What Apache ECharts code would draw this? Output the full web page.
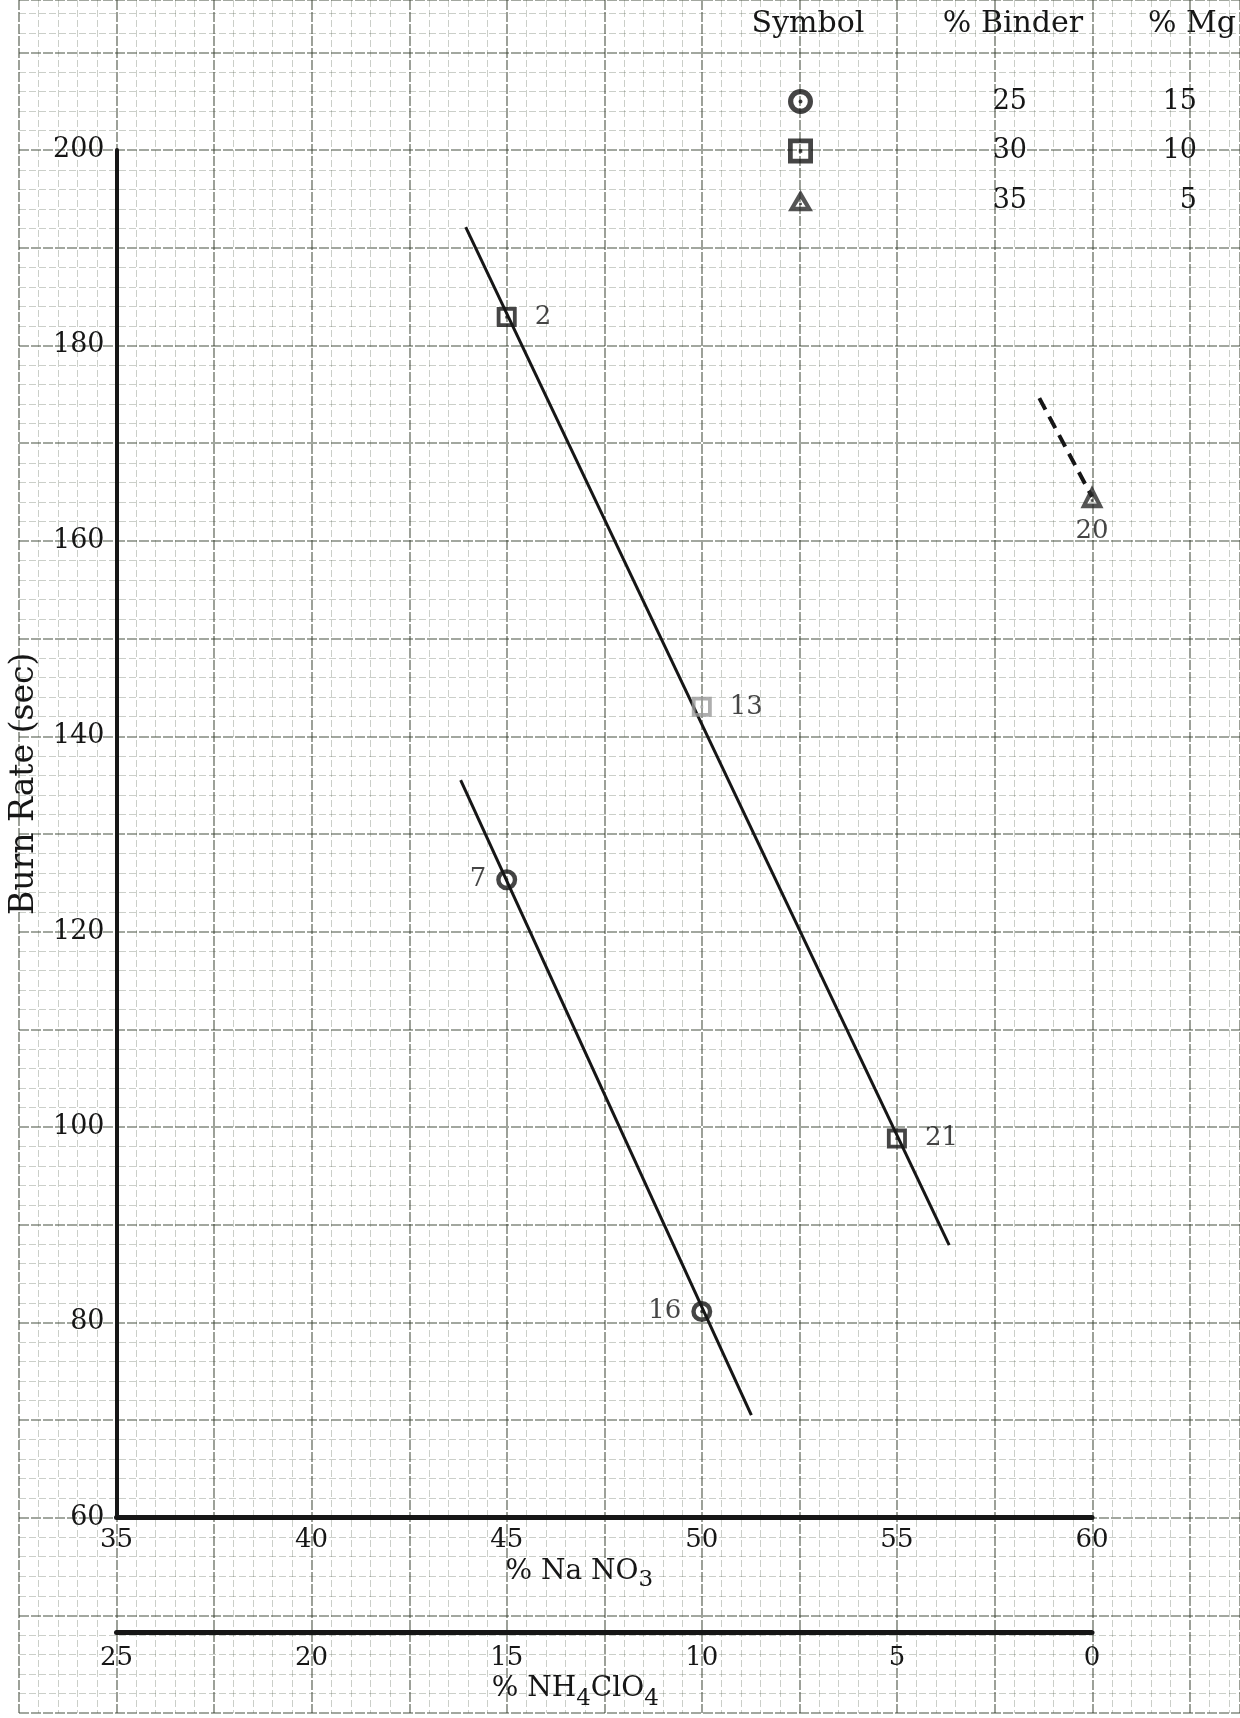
<!DOCTYPE html>
<html>
<head>
<meta charset="utf-8">
<script src="https://cdn.jsdelivr.net/npm/echarts@6/dist/echarts.min.js"></script>
<style>
  html, body { margin: 0; padding: 0; background: #ffffff; }
  #chart { width: 1240px; height: 1718px; }
</style>
</head>
<body>
<div id="chart"></div>
<script>
// ---------------- data ----------------
const seriesNames = ['25% Binder, 15% Mg', '30% Binder, 10% Mg', '35% Binder, 5% Mg'];
const legendHeaders = ['Symbol', '% Binder', '% Mg'];
const binderPct = [25, 30, 35];
const mgPct = [15, 10, 5];

// circle series (25% binder)
const circleX = [45, 50];
const circleY = [125.3, 81.1];
const circleIds = ['7', '16'];
// square series (30% binder)
const squareX = [45, 50, 55];
const squareY = [182.9, 143.0, 98.8];
const squareIds = ['2', '13', '21'];
// triangle series (35% binder)
const triX = [60];
const triY = [164.5];
const triIds = ['20'];

// drawn trend lines (endpoints)
const circleFitX = [43.82, 51.27];
const circleFitY = [135.5, 70.5];
const squareFitX = [43.95, 56.34];
const squareFitY = [192.1, 87.9];
const triFitX = [58.65, 60];
const triFitY = [174.6, 164.5];

// axes
const naNO3Range = [35, 60];
const nh4ClO4Range = [0, 25];
const burnRange = [60, 200];

// ---------------- styling ----------------
const FONT = 'DejaVu Serif';
const INK = '#161616';
const pair = (xs, ys) => xs.map((x, i) => [x, ys[i]]);

const circleSym = 'path://M0,-10A10,10,0,1,1,0,10A10,10,0,1,1,0,-10ZM0,-5.8A5.8,5.8,0,1,0,0,5.8A5.8,5.8,0,1,0,0,-5.8ZM0,-1.6A1.6,1.6,0,1,1,0,1.6A1.6,1.6,0,1,1,0,-1.6Z';
const squareSym = 'path://M-10,-10L10,-10L10,10L-10,10ZM-6.2,-6.2L-6.2,6.2L6.2,6.2L6.2,-6.2ZM-1.4,-1.4L1.4,-1.4L1.4,1.4L-1.4,1.4Z';
const triSym = 'path://M0,-11L11,8L-11,8ZM0,-3L-4.5,4L4.5,4ZM-1.2,0.5L1.2,0.5L1.2,2.5L-1.2,2.5Z';

const labelStyle = { show: true, color: INK, fontFamily: FONT, fontSize: 26 };

const chart = echarts.init(document.getElementById('chart'), null, { renderer: 'canvas' });

const bgMinor = { show: true, lineStyle: { color: 'rgba(70,82,62,0.28)', width: 1, type: [7, 3] } };
const bgMajor = { show: true, lineStyle: { color: 'rgba(50,60,44,0.6)', width: 1.6, type: [10, 2] } };

const option = {
  animation: false,
  backgroundColor: '#ffffff',
  grid: [
    { left: 19, right: 0, top: 0, bottom: 5, containLabel: false, outerBoundsMode: 'none' },
    { left: 116.5, right: 148, top: 150, bottom: 200.4, containLabel: false, outerBoundsMode: 'none' }
  ],
  xAxis: [
    {
      gridIndex: 0, type: 'value', min: 32.5, max: 63.784, interval: 2.5,
      axisLine: { show: false }, axisTick: { show: false }, axisLabel: { show: false },
      splitLine: bgMajor, minorTick: { show: false, splitNumber: 5 }, minorSplitLine: bgMinor, z: 0
    },
    {
      gridIndex: 1, type: 'value', position: 'bottom',
      min: naNO3Range[0], max: naNO3Range[1], interval: 5,
      axisLine: { show: true, onZero: false, lineStyle: { color: INK, width: 5 } },
      axisTick: { show: false },
      splitLine: { show: false },
      axisLabel: { color: INK, fontFamily: FONT, fontSize: 26, margin: 10 },
      name: '% Na NO{s|3}', nameLocation: 'middle', nameGap: 40, nameMoveOverlap: false,
      nameTextStyle: {
        color: INK, fontFamily: FONT, fontSize: 28, padding: [0, 50, 0, 0],
        rich: {
          s: { fontFamily: FONT, fontSize: 23, color: INK, padding: [17, 0, 0, 0], lineHeight: 25 }
        }
      }
    },
    {
      gridIndex: 1, type: 'value', position: 'bottom', offset: 115,
      min: nh4ClO4Range[0], max: nh4ClO4Range[1], interval: 5, inverse: true,
      axisLine: { show: true, onZero: false, lineStyle: { color: INK, width: 5 } },
      axisTick: { show: false },
      splitLine: { show: false },
      axisLabel: { color: INK, fontFamily: FONT, fontSize: 26, margin: 13 },
      name: '% NH{s|4}ClO{s|4}', nameLocation: 'middle', nameGap: 42, nameMoveOverlap: false,
      nameTextStyle: {
        color: INK, fontFamily: FONT, fontSize: 28, padding: [0, 58, 0, 0],
        rich: {
          s: { fontFamily: FONT, fontSize: 23, color: INK, padding: [20, 0, 0, 0], lineHeight: 25 }
        }
      }
    }
  ],
  yAxis: [
    {
      gridIndex: 0, type: 'value', min: 40, max: 215.38, interval: 10,
      axisLine: { show: false }, axisTick: { show: false }, axisLabel: { show: false },
      splitLine: bgMajor, minorTick: { show: false, splitNumber: 5 }, minorSplitLine: bgMinor, z: 0
    },
    {
      gridIndex: 1, type: 'value', min: burnRange[0], max: burnRange[1], interval: 20,
      axisLine: { show: true, onZero: false, lineStyle: { color: INK, width: 4 } },
      axisTick: { show: false },
      splitLine: { show: false },
      axisLabel: { color: INK, fontFamily: FONT, fontSize: 27, margin: 12 },
      name: 'Burn Rate (sec)', nameLocation: 'middle', nameRotate: 90, nameGap: 76,
      nameTextStyle: { color: INK, fontFamily: FONT, fontSize: 33, padding: [0, 0, 0, 100] }
    }
  ],
  legend: {
    data: seriesNames,
    orient: 'vertical',
    left: 788, top: 88,
    padding: 0,
    itemWidth: 25, itemHeight: 25, itemGap: 22.5,
    selectedMode: false,
    formatter: function (name) {
      const i = seriesNames.indexOf(name);
      return '{a|' + binderPct[i] + '}{b|' + mgPct[i] + '}';
    },
    textStyle: {
      color: INK, fontFamily: FONT, fontSize: 27,
      rich: {
        a: { width: 209, align: 'right', fontFamily: FONT, fontSize: 27, color: INK, lineHeight: 30 },
        b: { width: 170, align: 'right', fontFamily: FONT, fontSize: 27, color: INK, lineHeight: 30 }
      }
    }
  },
  graphic: [
    { type: 'text', x: 808, y: 24, style: { text: legendHeaders[0], font: '30px "DejaVu Serif"', fill: INK, align: 'center', verticalAlign: 'middle' } },
    { type: 'text', x: 1013, y: 24, style: { text: legendHeaders[1], font: '30px "DejaVu Serif"', fill: INK, align: 'center', verticalAlign: 'middle' } },
    { type: 'text', x: 1192, y: 24, style: { text: legendHeaders[2], font: '30px "DejaVu Serif"', fill: INK, align: 'center', verticalAlign: 'middle' } }
  ],
  series: [
    {
      name: 'circle fit', type: 'line', xAxisIndex: 1, yAxisIndex: 1,
      data: pair(circleFitX, circleFitY), showSymbol: false, silent: true,
      lineStyle: { color: INK, width: 3 }, z: 3
    },
    {
      name: 'square fit', type: 'line', xAxisIndex: 1, yAxisIndex: 1,
      data: pair(squareFitX, squareFitY), showSymbol: false, silent: true,
      lineStyle: { color: INK, width: 3 }, z: 3
    },
    {
      name: 'triangle fit', type: 'line', xAxisIndex: 1, yAxisIndex: 1,
      data: pair(triFitX, triFitY), showSymbol: false, silent: true,
      lineStyle: { color: INK, width: 4, type: [13, 8] }, z: 3
    },
    {
      name: seriesNames[0], type: 'scatter', xAxisIndex: 1, yAxisIndex: 1,
      symbol: circleSym, symbolSize: 21,
      itemStyle: { color: INK },
      data: pair(circleX, circleY),
      label: Object.assign({}, labelStyle, {
        position: 'left', distance: 10,
        formatter: p => circleIds[p.dataIndex]
      }),
      z: 5
    },
    {
      name: seriesNames[1], type: 'scatter', xAxisIndex: 1, yAxisIndex: 1,
      symbol: squareSym, symbolSize: 20,
      itemStyle: { color: INK },
      data: pair(squareX, squareY).map((p, i) => ({
        value: p,
        itemStyle: i === 1 ? { color: '#9a9a9a' } : undefined
      })),
      label: Object.assign({}, labelStyle, {
        position: 'right', distance: 18,
        formatter: p => squareIds[p.dataIndex]
      }),
      z: 5
    },
    {
      name: seriesNames[2], type: 'scatter', xAxisIndex: 1, yAxisIndex: 1,
      symbol: triSym, symbolSize: 23,
      itemStyle: { color: '#2a2a2a' },
      data: pair(triX, triY),
      label: Object.assign({}, labelStyle, {
        position: 'bottom', distance: 10,
        formatter: p => triIds[p.dataIndex]
      }),
      z: 5
    }
  ]
};

chart.setOption(option);
</script>
</body>
</html>
